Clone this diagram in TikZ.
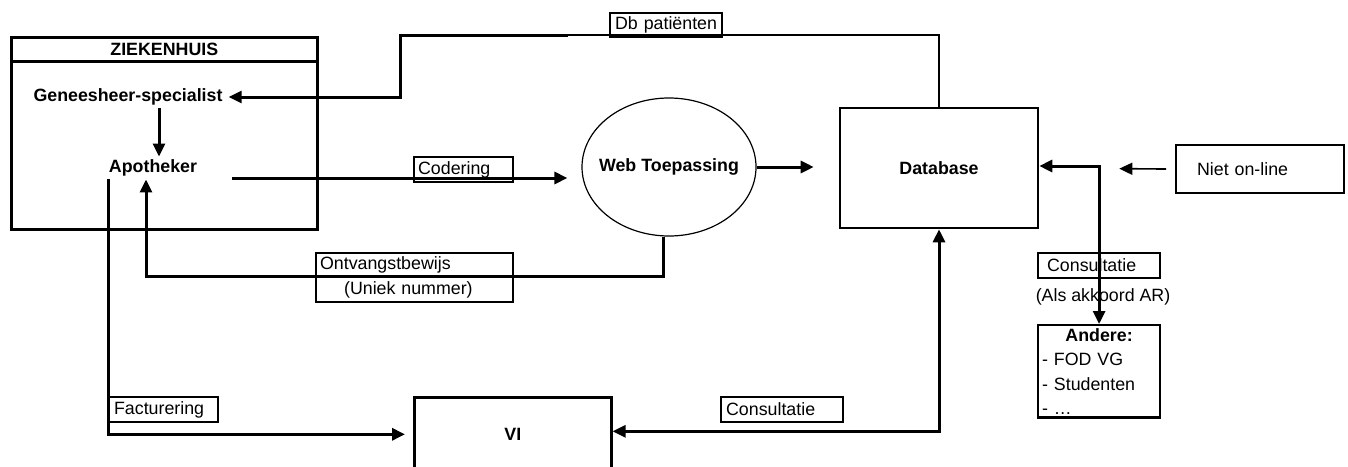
\documentclass[tikz,border=0pt]{standalone}
\usepackage{fontspec}
\setmainfont{Liberation Sans}
\usepackage{tikz}
\usetikzlibrary{arrows.meta,positioning,shapes.geometric}
\newcommand{\diagfont}{\fontsize{17.8}{24.5}\selectfont}

\begin{document}
\begin{tikzpicture}[
    x=1pt, y=-1pt,
    >={Triangle[length=13pt,width=12pt]},
    every node/.style={font=\diagfont},
    unitbox/.style={draw, line width=2.6pt, inner sep=0pt, font=\diagfont\bfseries},
    actor/.style={inner xsep=6pt, inner ysep=3pt, font=\diagfont\bfseries},
    tag/.style={draw, line width=2.2pt, anchor=north west, inner ysep=0pt, minimum height=25pt, align=left},
    flow/.style={->, line width=3pt},
    dblink/.style={line width=1.2pt}
]
\clip (0,0) rectangle (1348,466);

% ziekenhuis
\node[unitbox, anchor=north west, minimum width=306, minimum height=192] (zkh) at (10,36) {};
\node[unitbox, anchor=north west, minimum width=306, minimum height=24] (zkhhead) at (10,36) {ZIEKENHUIS};
\node[actor] (gsp) at (128,97) {Geneesheer-specialist};
\node[actor] (apo) at (153,168) {Apotheker};

% systemen
\node[ellipse, draw, line width=1.2pt, minimum width=174, minimum height=138, inner xsep=-9pt, inner ysep=0pt, font=\diagfont\bfseries] (web) at (669,167) {Web Toepassing};
\node[unitbox, minimum width=198, minimum height=120] (db) at (939,168) {Database};
\node[unitbox, anchor=north west, minimum width=197, minimum height=74] (vi) at (413,396) {VI};
\node[tag, text width=126pt, inner xsep=21pt, minimum height=48pt] (niet) at (1175,144) {Niet on-line};
\node[tag, text width=114pt, inner xsep=4pt, inner ysep=3pt] (andere) at (1037,324)
    {\makebox[114pt]{\bfseries Andere:}\\- FOD VG\\- Studenten\\- …};

% labels
\node[tag, text width=102pt, inner xsep=5pt, minimum height=24pt] (lbldb) at (609,12) {Db patiënten};
\node[tag, text width=91pt, inner xsep=4pt] (lblcod) at (413,156) {Codering};
\node[tag, text width=189pt, inner xsep=4pt, minimum height=49pt] (lblrcpt) at (315,252)
    {Ontvangstbewijs\\\hspace*{24pt}(Uniek nummer)};
\node[tag, text width=99pt, inner xsep=5pt] (lblfact) at (108,396) {Facturering};
\node[tag, text width=112pt, inner xsep=5pt] (lblcons) at (720,396) {Consultatie};
\node[tag, text width=104pt, inner xsep=9pt] (lblconsr) at (1037,252) {Consultatie};
\node (lblar) at (1103,297) {(Als akkoord AR)};

\coordinate (dbsplit) at (568,35);
\coordinate (dbcorner) at (400,35);
\coordinate (rcpt) at (146,276);

\draw[dblink] (db.north) |- (dbsplit);
\draw[flow] (dbsplit) -- (dbcorner) |- (gsp.east);
\draw[flow] ([xshift=31pt]gsp.south) -- ([xshift=6pt]apo.north);
\draw[flow, shorten <=29pt, shorten >=14pt] ([yshift=-10pt]apo.east) -- ([yshift=-10pt]apo.east -| web.west);
\draw[flow, shorten >=25pt] (web.east) -- (web.east -| db.west);
\draw[flow, line width=1.6pt, shorten <=9pt, shorten >=80pt] (niet.west) -- (db.east);
\draw[flow, <->] ([yshift=2pt]db.east) -| (andere.north);
\draw[flow, <->] (db.south) |- ([yshift=3pt]vi.east);
\draw[flow] ([xshift=-6pt]web.south) |- (rcpt) -- ([xshift=-7pt]apo.south);
\draw[flow, shorten >=8pt] ([xshift=6pt]apo.south west) |- (vi.west);
\end{tikzpicture}
\end{document}
